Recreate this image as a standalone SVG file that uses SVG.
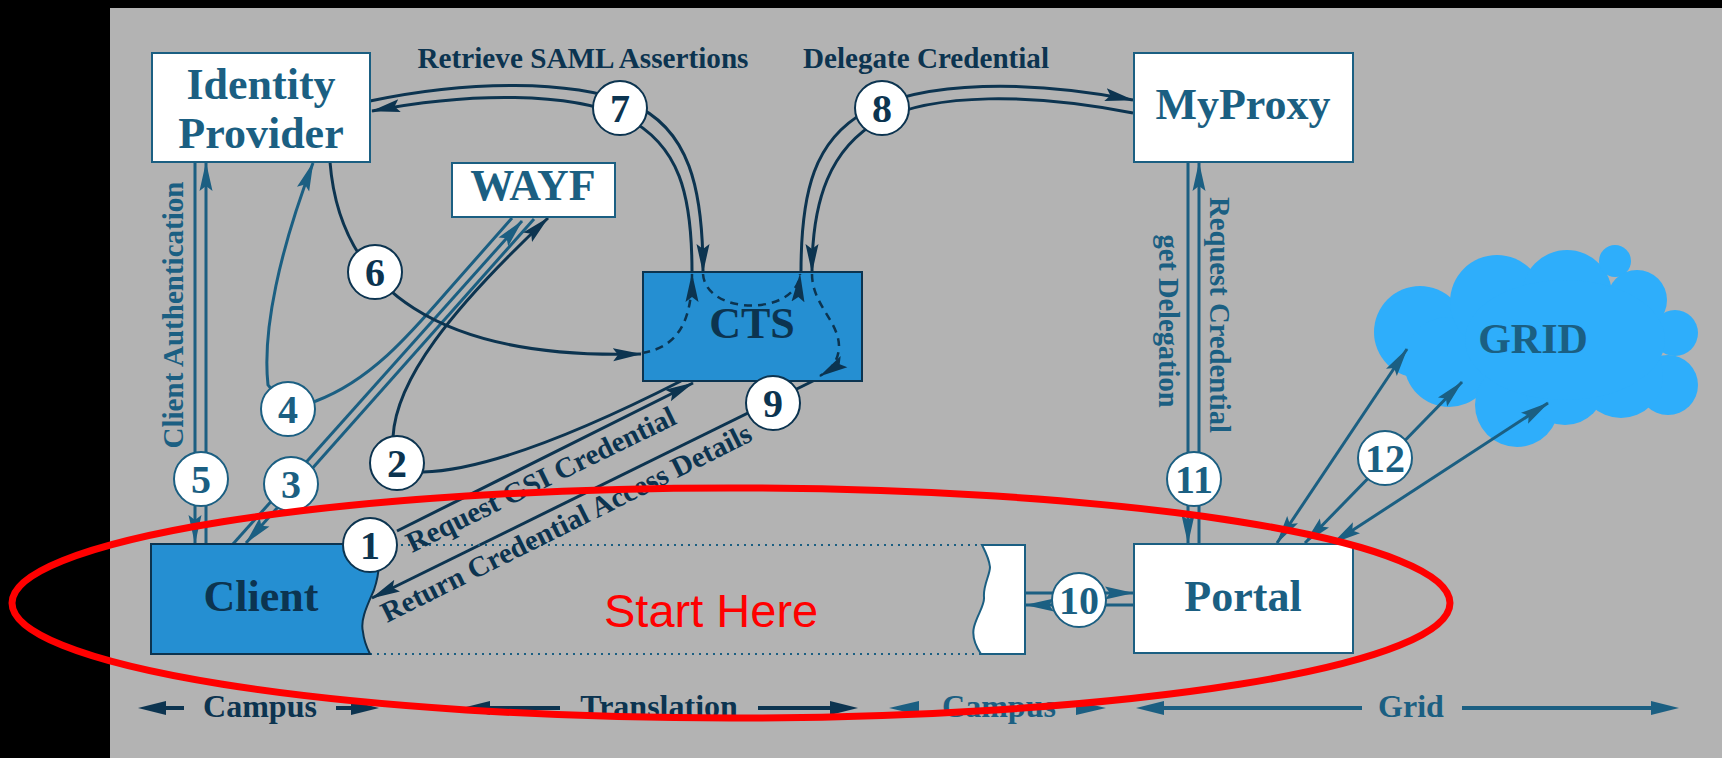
<svg xmlns="http://www.w3.org/2000/svg" width="1722" height="758" viewBox="0 0 1722 758">
<style>
.box{fill:#fff;stroke:#1b5f82;stroke-width:2}
.bbox{fill:#258fd2;stroke:#0c3450;stroke-width:2}
.nt{font-family:"Liberation Serif","Times New Roman",serif;font-weight:bold;font-size:44px;text-anchor:middle;fill:#1b5f82}
.ntd{fill:#0c3450}
.lbl{font-family:"Liberation Serif","Times New Roman",serif;font-weight:bold;font-size:29px}
.num{font-family:"Liberation Serif","Times New Roman",serif;font-weight:bold;font-size:40px;text-anchor:middle}
.leg{font-family:"Liberation Serif","Times New Roman",serif;font-weight:bold;font-size:32px;text-anchor:middle}
.cd{fill:#fff;stroke:#0c3450;stroke-width:2}
.cl{fill:#fff;stroke:#1b5f82;stroke-width:2}
.dk{fill:none;stroke:#0c3450;stroke-width:3}
.lt{fill:none;stroke:#1b5f82;stroke-width:3}
.dash{stroke-dasharray:8 6;stroke-width:2.5}
.navy{fill:#0c3450}
.teal{fill:#1b5f82}
</style>
<defs>
<marker id="an" viewBox="-28 -7 30 14" refX="0" refY="0" markerWidth="30" markerHeight="14" markerUnits="userSpaceOnUse" orient="auto-start-reverse"><path d="M1,0 L-28,-6.5 L-23,0 L-28,6.5 Z" fill="#0c3450"/></marker>
<marker id="at" viewBox="-28 -7 30 14" refX="0" refY="0" markerWidth="30" markerHeight="14" markerUnits="userSpaceOnUse" orient="auto-start-reverse"><path d="M1,0 L-28,-6.5 L-23,0 L-28,6.5 Z" fill="#1b5f82"/></marker>
</defs>
<rect x="0" y="0" width="1722" height="758" fill="#000"/>
<rect x="110" y="8" width="1612" height="750" fill="#b3b3b3"/>

<g id="grid">
<g fill="#2eaefb">
<circle cx="1420" cy="332" r="46"/>
<circle cx="1449" cy="362" r="45"/>
<circle cx="1497" cy="302" r="47"/>
<circle cx="1567" cy="295" r="45"/>
<circle cx="1615" cy="261" r="16"/>
<circle cx="1637" cy="300" r="30"/>
<circle cx="1675" cy="333" r="23"/>
<circle cx="1668" cy="385" r="30"/>
<circle cx="1621" cy="376" r="42"/>
<circle cx="1517" cy="405" r="42"/>
<circle cx="1565" cy="385" r="40"/>
<ellipse cx="1565" cy="340" rx="100" ry="60"/>
</g>
<text class="nt" x="1533" y="353" style="font-size:42px">GRID</text>
</g>

<g id="connectors">
<!-- 5 -->
<path class="lt" d="M195,162 L195,543" marker-end="url(#at)"/>
<path class="lt" d="M206,544 L206,163" marker-end="url(#at)"/>
<!-- 11 -->
<path class="lt" d="M1188,162 L1188,543" marker-end="url(#at)"/>
<path class="lt" d="M1199,544 L1199,163" marker-end="url(#at)"/>
<!-- 10 -->
<path class="lt" d="M1025,593 L1133,593" marker-end="url(#at)"/>
<path class="lt" d="M1134,605 L1026,605" marker-end="url(#at)"/>
<!-- 12 -->
<path class="lt" d="M1277,543 L1407,349" marker-start="url(#at)" marker-end="url(#at)"/>
<path class="lt" d="M1305,543 L1462,382" marker-start="url(#at)" marker-end="url(#at)"/>
<path class="lt" d="M1333,543 L1548,403" marker-start="url(#at)" marker-end="url(#at)"/>
<!-- 3 -->
<path class="lt" d="M233,544 L522,221" marker-end="url(#at)"/>
<path class="lt" d="M534,219 L246,543" marker-end="url(#at)"/>
<!-- 4 -->
<path class="lt" d="M512,218 L452,286 C412,332 372,380 316,401 L288,409 L268,385 C262,330 280,250 313,163" marker-end="url(#at)"/>
<!-- 6 -->
<path class="dk" d="M330,162 C340,290 440,360 641,354" marker-end="url(#an)"/>
<!-- 7 -->
<path class="dk" d="M370,101 C470,80 570,80 630,103 C690,128 703,190 703,272" marker-end="url(#an)"/>
<path class="dk" d="M692,272 C692,195 680,145 625,117 C570,92 470,92 372,111" marker-end="url(#an)"/>
<!-- 8 -->
<path class="dk" d="M801,272 C801,190 815,140 865,112 C925,80 1030,80 1133,100" marker-end="url(#an)"/>
<path class="dk" d="M1133,113 C1030,93 935,93 880,120 C830,148 812,200 812,272" marker-end="url(#an)"/>
<!-- 1 -->
<path class="dk" d="M397,531 L693,383" marker-end="url(#an)"/>
<!-- 2 -->
<path class="dk" d="M681,381 C620,412 500,470 423,472 L397,463 L393,437 C396,380 450,310 548,218" marker-end="url(#an)"/>
<!-- dashed inside CTS -->
<path class="dk dash" d="M642,353 C680,347 692,318 692,274" marker-end="url(#an)"/>
<path class="dk dash" d="M703,274 C706,316 797,316 800,274" marker-end="url(#an)"/>
<path class="dk dash" d="M812,274 C812,305 840,322 839,348 C838,362 830,370 820,376" marker-end="url(#an)"/>
<!-- 9 -->
<path class="dk" d="M817,379 L372,598" marker-end="url(#an)"/>
<!-- dotted -->
<path d="M373,545 H982 M370,654 H982" fill="none" stroke="#1b5f82" stroke-width="2" stroke-dasharray="2 5"/>
</g>

<g id="idp"><rect class="box" x="152" y="53" width="218" height="109"/><text class="nt" x="261" y="99">Identity</text><text class="nt" x="261" y="148">Provider</text></g>
<g id="wayf"><rect class="box" x="452" y="163" width="163" height="54"/><text class="nt" x="533" y="200">WAYF</text></g>
<g id="myproxy"><rect class="box" x="1134" y="53" width="219" height="109"/><text class="nt" x="1243" y="119">MyProxy</text></g>
<g id="cts"><rect class="bbox" x="643" y="272" width="219" height="109" style="fill-opacity:1"/><text class="nt ntd" x="752" y="338">CTS</text></g>
<!-- redraw dashed on top of CTS fill -->
<g id="cts-internal">
<path class="dk dash" d="M642,353 C680,347 692,318 692,274" marker-end="url(#an)"/>
<path class="dk dash" d="M703,274 C706,316 797,316 800,274" marker-end="url(#an)"/>
<path class="dk dash" d="M812,274 C812,305 840,322 839,348 C838,362 830,370 820,376" marker-end="url(#an)"/>
</g>
<g id="client"><path class="bbox" d="M151,544 H373 C381,556 380,572 374,590 C367,606 360,620 363,632 C364,642 367,648 370,654 H151 Z"/><text class="nt ntd" x="261" y="611">Client</text></g>
<g id="portal-edge"><path class="box" d="M982,545 H1025 V654 H981 C975,645 972,635 974,627 C977,615 985,605 984,597 C983,585 990,575 990,567 C989,558 985,551 982,545 Z"/></g>
<g id="portal"><rect class="box" x="1134" y="544" width="219" height="109"/><text class="nt" x="1243" y="611">Portal</text></g>

<g id="labels">
<text class="lbl navy" x="583" y="68" text-anchor="middle" textLength="331" lengthAdjust="spacingAndGlyphs">Retrieve SAML Assertions</text>
<text class="lbl navy" x="926" y="68" text-anchor="middle" textLength="246" lengthAdjust="spacingAndGlyphs">Delegate Credential</text>
<text class="lbl teal" transform="translate(183,315) rotate(-90)" text-anchor="middle" textLength="267" lengthAdjust="spacingAndGlyphs">Client Authentication</text>
<text class="lbl teal" transform="translate(1159,321) rotate(90)" text-anchor="middle" textLength="173" lengthAdjust="spacingAndGlyphs">get Delegation</text>
<text class="lbl teal" transform="translate(1210,315) rotate(90)" text-anchor="middle" textLength="236" lengthAdjust="spacingAndGlyphs">Request Credential</text>
<text class="lbl navy" transform="translate(412,553) rotate(-26)" textLength="296" lengthAdjust="spacingAndGlyphs">Request GSI Credential</text>
<text class="lbl navy" transform="translate(387,623) rotate(-26.5)" textLength="410" lengthAdjust="spacingAndGlyphs">Return Credential Access Details</text>
</g>

<g id="badges">
<g id="b1"><circle class="cd" cx="370" cy="545" r="27"/><text class="num navy" x="370" y="559">1</text></g>
<g id="b2"><circle class="cd" cx="397" cy="463" r="27"/><text class="num navy" x="397" y="477">2</text></g>
<g id="b3"><circle class="cl" cx="291" cy="484" r="27"/><text class="num teal" x="291" y="498">3</text></g>
<g id="b4"><circle class="cl" cx="288" cy="409" r="27"/><text class="num teal" x="288" y="423">4</text></g>
<g id="b5"><circle class="cl" cx="201" cy="479" r="27"/><text class="num teal" x="201" y="493">5</text></g>
<g id="b6"><circle class="cd" cx="375" cy="272" r="27"/><text class="num navy" x="375" y="286">6</text></g>
<g id="b7"><circle class="cd" cx="620" cy="108" r="27"/><text class="num navy" x="620" y="122">7</text></g>
<g id="b8"><circle class="cd" cx="882" cy="108" r="27"/><text class="num navy" x="882" y="122">8</text></g>
<g id="b9"><circle class="cd" cx="773" cy="403" r="27"/><text class="num navy" x="773" y="417">9</text></g>
<g id="b10"><circle class="cl" cx="1079" cy="600" r="27"/><text class="num teal" x="1079" y="614">10</text></g>
<g id="b11"><circle class="cl" cx="1194" cy="479" r="27"/><text class="num teal" x="1194" y="493">11</text></g>
<g id="b12"><circle class="cl" cx="1385" cy="458" r="27"/><text class="num teal" x="1385" y="472">12</text></g>
</g>

<g id="legend">
<g fill="#0c3450" stroke="#0c3450" stroke-width="4">
<line x1="166" y1="708" x2="184" y2="708"/><polygon points="138,708 166,701 166,715" stroke="none"/>
<line x1="336" y1="708" x2="351" y2="708"/><polygon points="379,708 351,701 351,715" stroke="none"/>
<line x1="490" y1="708" x2="560" y2="708"/><polygon points="462,708 490,701 490,715" stroke="none"/>
<line x1="758" y1="708" x2="830" y2="708"/><polygon points="858,708 830,701 830,715" stroke="none"/>
</g>
<g fill="#1b5f82" stroke="#1b5f82" stroke-width="4">
<polygon points="889,708 919,701 919,715" stroke="none"/>
<polygon points="1106,708 1076,701 1076,715" stroke="none"/>
<line x1="1164" y1="708" x2="1362" y2="708"/><polygon points="1136,708 1164,701 1164,715" stroke="none"/>
<line x1="1462" y1="708" x2="1651" y2="708"/><polygon points="1679,708 1651,701 1651,715" stroke="none"/>
</g>
<text class="leg navy" x="260" y="717">Campus</text>
<text class="leg navy" x="659" y="717">Translation</text>
<text class="leg teal" x="999" y="717">Campus</text>
<text class="leg teal" x="1411" y="717">Grid</text>
</g>

<g id="start-here">
<ellipse cx="731" cy="603" rx="719" ry="115" fill="none" stroke="#ff0000" stroke-width="7"/>
<text x="604" y="627" font-family="Liberation Sans, Arial, sans-serif" font-size="47" fill="#ff0000">Start Here</text>
</g>
</svg>
